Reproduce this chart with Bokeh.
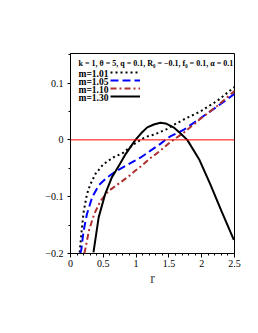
from bokeh.plotting import figure
from bokeh.models import (Range1d, Span, Label, Legend, LegendItem,
                          SingleIntervalTicker, CustomJSTickFormatter)
from bokeh.embed import file_html
from bokeh.resources import INLINE

# ---- data ----
r_101 = [0.14, 0.18, 0.20, 0.25, 0.30, 0.38, 0.50, 0.65, 0.80, 0.96, 1.07, 1.14, 1.27, 1.37, 1.47, 1.60, 1.73, 1.80, 1.98, 2.24, 2.50]
g_101 = [-0.198, -0.148, -0.127, -0.096, -0.079, -0.060, -0.043, -0.031, -0.023, -0.008, 0.0, 0.005, 0.009, 0.014, 0.019, 0.028, 0.036, 0.040, 0.050, 0.069, 0.093]

r_105 = [0.15, 0.165, 0.20, 0.25, 0.33, 0.43, 0.56, 0.71, 0.90, 0.99, 1.07, 1.22, 1.37, 1.47, 1.52, 1.73, 1.98, 2.24, 2.50]
g_105 = [-0.200, -0.193, -0.160, -0.131, -0.101, -0.080, -0.066, -0.054, -0.042, -0.036, -0.031, -0.019, -0.007, 0.002, 0.006, 0.018, 0.038, 0.059, 0.081]

r_110 = [0.21, 0.23, 0.28, 0.36, 0.46, 0.58, 0.76, 0.90, 0.99, 1.07, 1.22, 1.37, 1.52, 1.57, 1.73, 1.98, 2.24, 2.50]
g_110 = [-0.200, -0.190, -0.160, -0.131, -0.107, -0.090, -0.075, -0.063, -0.054, -0.047, -0.032, -0.019, -0.004, 0.0, 0.013, 0.037, 0.060, 0.086]

r_130 = [0.35, 0.43, 0.53, 0.63, 0.74, 0.84, 0.99, 1.08, 1.17, 1.27, 1.37, 1.45, 1.57, 1.67, 1.78, 1.96, 2.13, 2.30, 2.49]
g_130 = [-0.198, -0.136, -0.095, -0.066, -0.045, -0.025, 0.0, 0.012, 0.022, 0.027, 0.030, 0.029, 0.022, 0.012, 0.0, -0.034, -0.078, -0.125, -0.176]

m_labels = ["m=1.01", "m=1.05", "m=1.10", "m=1.30"]
title_text = "k = 1, \u03b8 = 5, q = 0.1, R\u2080 = \u22120.1, f\u2080 = 0.1, \u03b1 = 0.1"

X0, X1 = 0.0, 2.5
Y0, Y1 = -0.2, 0.152

W, H = 258, 320
FL, FT = 70, 53
FR = W - 234
FB = H - 253
fw = W - FL - FR
fh = H - FT - FB

def px_to_x(px):
    return X0 + (px - FL) / fw * (X1 - X0)

def py_to_y(py):
    return Y1 - (py - FT) / fh * (Y1 - Y0)

p = figure(width=W, height=H, output_backend="svg", toolbar_location=None,
           x_range=Range1d(X0, X1), y_range=Range1d(Y0, Y1),
           min_border_left=FL, min_border_right=FR, min_border_top=FT, min_border_bottom=FB)
p.grid.visible = False
p.outline_line_color = "black"
p.outline_line_width = 1
p.background_fill_color = "white"
p.border_fill_color = "white"

fmt = CustomJSTickFormatter(code="""
const v = Math.round(tick*10)/10;
return (v < 0 ? '\\u2212' : '') + Math.abs(v).toString();
""")

p.xaxis.ticker = SingleIntervalTicker(interval=0.5, num_minor_ticks=5)
p.yaxis.ticker = SingleIntervalTicker(interval=0.1, num_minor_ticks=2)
for ax in (p.xaxis[0], p.yaxis[0]):
    ax.formatter = fmt
    ax.major_tick_in = 0
    ax.major_tick_out = 4
    ax.minor_tick_in = 0
    ax.minor_tick_out = 2
    ax.axis_line_color = "black"
    ax.major_tick_line_color = "black"
    ax.minor_tick_line_color = "black"
    ax.major_label_text_font = "Liberation Serif"
    ax.major_label_text_font_size = "10px"
    ax.major_label_text_color = "black"
p.xaxis.major_label_standoff = 2
p.yaxis.major_label_standoff = 4
p.yaxis.major_tick_out = 3
p.xaxis.axis_label = "r"
p.xaxis.axis_label_text_font = "Liberation Serif"
p.xaxis.axis_label_text_font_style = "normal"
p.xaxis.axis_label_text_font_size = "14px"
p.xaxis.axis_label_standoff = 1

p.add_layout(Span(location=0, dimension="width", line_color="red", line_width=1))

l1 = p.line(r_101, g_101, line_color="black", line_width=2, line_dash="2 3")
l2 = p.line(r_105, g_105, line_color="blue", line_width=2, line_dash="8 4")
l3 = p.line(r_110, g_110, line_color="#b03030", line_width=2, line_dash="6 3 2 3")
l4 = p.line(r_130, g_130, line_color="black", line_width=2)

row_h = 8
leg_top_px = 69   # top of first legend row (page px)
legend = Legend(items=[LegendItem(label=" ", renderers=[rr]) for rr in (l1, l2, l3, l4)],
                location=(40, int(fh - (leg_top_px - FT) - 4 * row_h + 1)),
                padding=0, margin=0, spacing=0, label_standoff=0,
                glyph_width=30, glyph_height=row_h, label_height=row_h, label_width=0,
                label_text_font_size="6px",
                border_line_color=None, background_fill_alpha=0)
p.add_layout(legend)

for i, name in enumerate(m_labels):
    p.add_layout(Label(x=px_to_x(FL + 8), y=py_to_y(leg_top_px + row_h * i + row_h / 2 + 0.3),
                       text=name, text_font="Liberation Serif", text_font_style="bold",
                       text_font_size="9.5px", text_align="left", text_baseline="middle",
                       text_color="black"))

p.add_layout(Label(x=px_to_x(FL + 8), y=py_to_y(62.7), text=title_text,
                   text_font="Liberation Serif", text_font_style="bold",
                   text_font_size="8px", text_align="left", text_baseline="middle",
                   text_color="black"))

p.add_layout(Label(x=px_to_x(28), y=py_to_y(157), text="g(r,\u03b8)",
                   text_font="Liberation Serif", text_font_size="12px",
                   text_align="center", text_baseline="middle", text_color="black"))

open("out.html", "w").write(file_html(p, INLINE))
